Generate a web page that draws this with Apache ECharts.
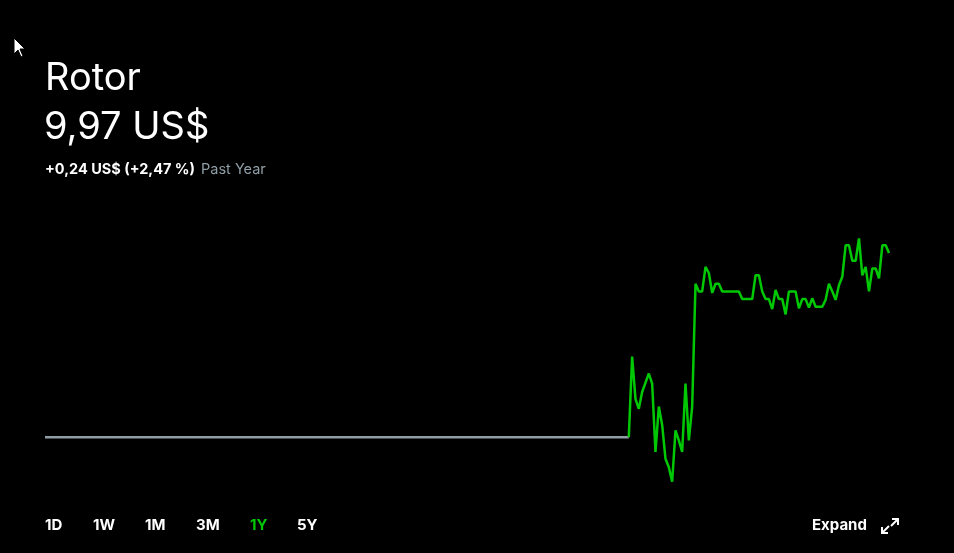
<!DOCTYPE html>
<html>
<head>
<meta charset="utf-8">
<script src="https://cdn.jsdelivr.net/npm/echarts@6/dist/echarts.min.js"></script>
<style>
html,body{margin:0;padding:0;background:#000;}
#chart{width:954px;height:553px;}
</style>
</head>
<body>
<div id="chart"></div>
<script>
// ---- data ----
const titleText = 'Rotor';
const priceText = '9,97 US$';
const changeText = '+0,24 US$ (+2,47 %)';
const periodText = 'Past Year';
const rangeLabels = ['1D', '1W', '1M', '3M', '1Y', '5Y'];
const activeRange = '1Y';
const greenStart = 175; // first day the price moves
// daily closing prices over the past year (254 trading days)
const prices = [
 9.73,9.73,9.73,9.73,9.73,9.73,9.73,9.73,9.73,9.73,9.73,9.73,9.73,9.73,9.73,9.73,9.73,9.73,9.73,9.73,
 9.73,9.73,9.73,9.73,9.73,9.73,9.73,9.73,9.73,9.73,9.73,9.73,9.73,9.73,9.73,9.73,9.73,9.73,9.73,9.73,
 9.73,9.73,9.73,9.73,9.73,9.73,9.73,9.73,9.73,9.73,9.73,9.73,9.73,9.73,9.73,9.73,9.73,9.73,9.73,9.73,
 9.73,9.73,9.73,9.73,9.73,9.73,9.73,9.73,9.73,9.73,9.73,9.73,9.73,9.73,9.73,9.73,9.73,9.73,9.73,9.73,
 9.73,9.73,9.73,9.73,9.73,9.73,9.73,9.73,9.73,9.73,9.73,9.73,9.73,9.73,9.73,9.73,9.73,9.73,9.73,9.73,
 9.73,9.73,9.73,9.73,9.73,9.73,9.73,9.73,9.73,9.73,9.73,9.73,9.73,9.73,9.73,9.73,9.73,9.73,9.73,9.73,
 9.73,9.73,9.73,9.73,9.73,9.73,9.73,9.73,9.73,9.73,9.73,9.73,9.73,9.73,9.73,9.73,9.73,9.73,9.73,9.73,
 9.73,9.73,9.73,9.73,9.73,9.73,9.73,9.73,9.73,9.73,9.73,9.73,9.73,9.73,9.73,9.73,9.73,9.73,9.73,9.73,
 9.73,9.73,9.73,9.73,9.73,9.73,9.73,9.73,9.73,9.73,9.73,9.73,9.73,9.73,9.73,9.73,
 // index 176 onward
 9.835,9.780,9.767,9.789,9.801,9.813,9.800,9.711,9.770,9.746,
 9.702,9.691,9.672,9.739,9.726,9.711,9.800,9.726,9.770,9.930,
 9.920,9.920,9.952,9.944,9.918,9.930,9.930,9.920,9.920,9.920,
 9.920,9.920,9.920,9.910,9.910,9.910,9.910,9.941,9.941,9.920,
 9.910,9.910,9.897,9.922,9.910,9.910,9.890,9.920,9.920,9.920,
 9.898,9.910,9.910,9.899,9.911,9.900,9.900,9.900,9.909,9.930,
 9.920,9.909,9.928,9.939,9.980,9.980,9.960,9.960,9.989,9.941,
 9.952,9.920,9.950,9.950,9.937,9.980,9.980,9.970
];
const days = prices.map((_, i) => String(i + 1));

const greySeries = prices.map((v, i) => (i <= greenStart ? v : null));
const greenSeries = prices.map((v, i) => (i >= greenStart ? v : null));

const GREEN = '#00c805';
const GREY = '#8f9ea6';
const FONT = 'Inter, "Noto Sans", sans-serif';

const chart = echarts.init(document.getElementById('chart'), null, {renderer: 'canvas'});

const rangeX = [45, 93, 145, 196, 250, 297];
const graphics = [
  {type: 'text', left: 45, top: 60, style: {text: titleText, fill: '#fff', font: '38px ' + FONT}},
  {type: 'text', left: 44, top: 109, style: {text: priceText, fill: '#fff', font: '38px ' + FONT}},
  {type: 'text', left: 45, top: 162, style: {text: changeText, fill: '#fff', font: 'bold 14.5px ' + FONT}},
  {type: 'text', left: 201, top: 162, style: {text: periodText, fill: '#8f9ea6', font: '14.5px ' + FONT}},
  {type: 'text', left: 812, top: 518, style: {text: 'Expand', fill: '#fff', font: 'bold 15px ' + FONT}},
  // expand icon
  {type: 'polyline', shape: {points: [[892, 519], [898, 519], [898, 525]]}, style: {stroke: '#fff', lineWidth: 2, fill: null}},
  {type: 'line', shape: {x1: 898, y1: 519, x2: 891, y2: 526}, style: {stroke: '#fff', lineWidth: 2}},
  {type: 'polyline', shape: {points: [[882, 527], [882, 533], [888, 533]]}, style: {stroke: '#fff', lineWidth: 2, fill: null}},
  {type: 'line', shape: {x1: 882, y1: 533, x2: 889, y2: 526}, style: {stroke: '#fff', lineWidth: 2}},
  // mouse cursor
  {type: 'polygon', shape: {points: [[14, 38], [14, 54], [18, 50], [21, 57], [23, 56], [20, 49], [25, 49]]}, style: {fill: '#fff', stroke: '#000', lineWidth: 1}}
];
rangeLabels.forEach((r, i) => {
  graphics.push({type: 'text', left: rangeX[i], top: 518,
    style: {text: r, fill: r === activeRange ? GREEN : '#fff', font: 'bold 15px ' + FONT}});
});

chart.setOption({
  backgroundColor: '#000',
  animation: false,
  grid: {left: 45, right: 65, top: 230, bottom: 62},
  xAxis: {type: 'category', data: days, boundaryGap: false, show: false},
  yAxis: {type: 'value', min: 9.66, max: 10.00, show: false},
  graphic: graphics,
  series: [
    {type: 'line', data: greySeries, symbol: 'none', lineStyle: {color: GREY, width: 2.5}, connectNulls: false},
    {type: 'line', data: greenSeries, symbol: 'none', lineStyle: {color: GREEN, width: 2.5}, connectNulls: false}
  ]
});
</script>
</body>
</html>
